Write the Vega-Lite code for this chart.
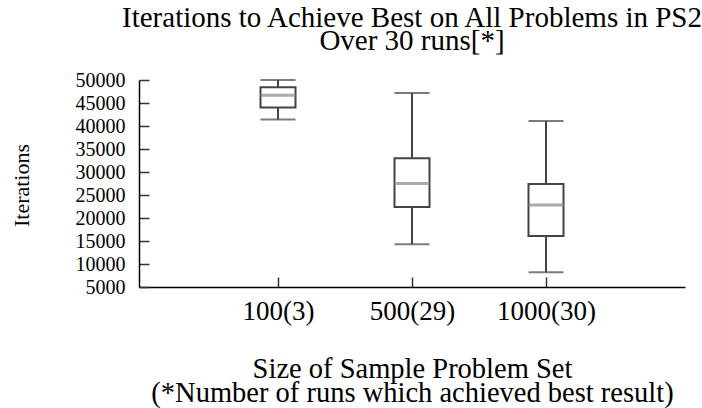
{
  "$schema": "https://vega.github.io/schema/vega-lite/v6.json",
  "width": 546,
  "height": 207,
  "autosize": "none",
  "padding": {"left": 139, "top": 80, "right": 17, "bottom": 121},
  "background": "white",
  "title": {
    "text": ["Iterations to Achieve Best on All Problems in PS2", "Over 30 runs[*]"],
    "font": "Liberation Serif",
    "fontSize": 29,
    "fontWeight": "normal",
    "color": "black",
    "lineHeight": 23,
    "anchor": "middle",
    "baseline": "alphabetic",
    "offset": -9
  },
  "data": {
    "values": [
      {"pos": 1, "size": "100(3)", "min": 41400, "q1": 44000, "median": 46700, "q3": 48400, "max": 50000},
      {"pos": 2, "size": "500(29)", "min": 14300, "q1": 22400, "median": 27500, "q3": 33000, "max": 47200},
      {"pos": 3, "size": "1000(30)", "min": 8200, "q1": 16100, "median": 22800, "q3": 27400, "max": 41100}
    ]
  },
  "config": {
    "view": {"stroke": null},
    "axis": {"grid": false, "domainColor": "black", "domainWidth": 1.5, "tickColor": "#333", "tickWidth": 1.5, "labelColor": "black", "titleColor": "black", "titleFontWeight": "normal"}
  },
  "encoding": {
    "x": {
      "field": "pos",
      "type": "quantitative",
      "scale": {"domain": [0, 4], "nice": false, "zero": false},
      "axis": {
        "values": [1, 2, 3],
        "tickCount": 3,
        "labelExpr": "datum.value == 1 ? '100(3)' : datum.value == 2 ? '500(29)' : '1000(30)'",
        "labelFont": "Liberation Serif",
        "labelFontSize": 27,
        "labelOverlap": false,
        "tickSize": -10,
        "labelPadding": 21,
        "labelBaseline": "top",
        "title": ["Size of Sample Problem Set", "(*Number of runs which achieved best result)"],
        "titleFont": "Liberation Serif",
        "titleFontSize": 28.5,
        "titleLineHeight": 24,
        "titleBaseline": "alphabetic",
        "titleX": 273,
        "titleY": 90
      }
    }
  },
  "layer": [
    {
      "mark": {"type": "rule", "color": "#444", "strokeWidth": 2},
      "encoding": {
        "y": {
          "field": "min",
          "type": "quantitative",
          "scale": {"domain": [5000, 50000], "nice": false, "zero": false},
          "axis": {
            "values": [5000, 10000, 15000, 20000, 25000, 30000, 35000, 40000, 45000, 50000],
            "tickCount": 10,
            "format": "d",
            "labelFont": "Liberation Serif",
            "labelFontSize": 20,
            "labelOverlap": false,
            "labelFlush": false,
            "tickSize": -10,
            "labelPadding": 24,
            "title": "Iterations",
            "titleFont": "Liberation Serif",
            "titleFontSize": 22,
            "titleAngle": -90,
            "titleX": -118,
            "titleY": 105,
            "titleAlign": "center",
            "titleBaseline": "middle"
          }
        },
        "y2": {"field": "max"}
      }
    },
    {
      "mark": {"type": "bar", "fill": "white", "stroke": "#444", "strokeWidth": 2, "size": 35},
      "encoding": {
        "y": {"field": "q1", "type": "quantitative"},
        "y2": {"field": "q3"}
      }
    },
    {
      "mark": {"type": "tick", "orient": "horizontal", "color": "#444", "thickness": 2, "size": 35},
      "encoding": {"y": {"field": "min", "type": "quantitative"}}
    },
    {
      "mark": {"type": "tick", "orient": "horizontal", "color": "#444", "thickness": 2, "size": 35},
      "encoding": {"y": {"field": "max", "type": "quantitative"}}
    },
    {
      "mark": {"type": "tick", "orient": "horizontal", "color": "#888", "thickness": 3, "size": 35},
      "encoding": {"y": {"field": "median", "type": "quantitative"}}
    }
  ]
}
